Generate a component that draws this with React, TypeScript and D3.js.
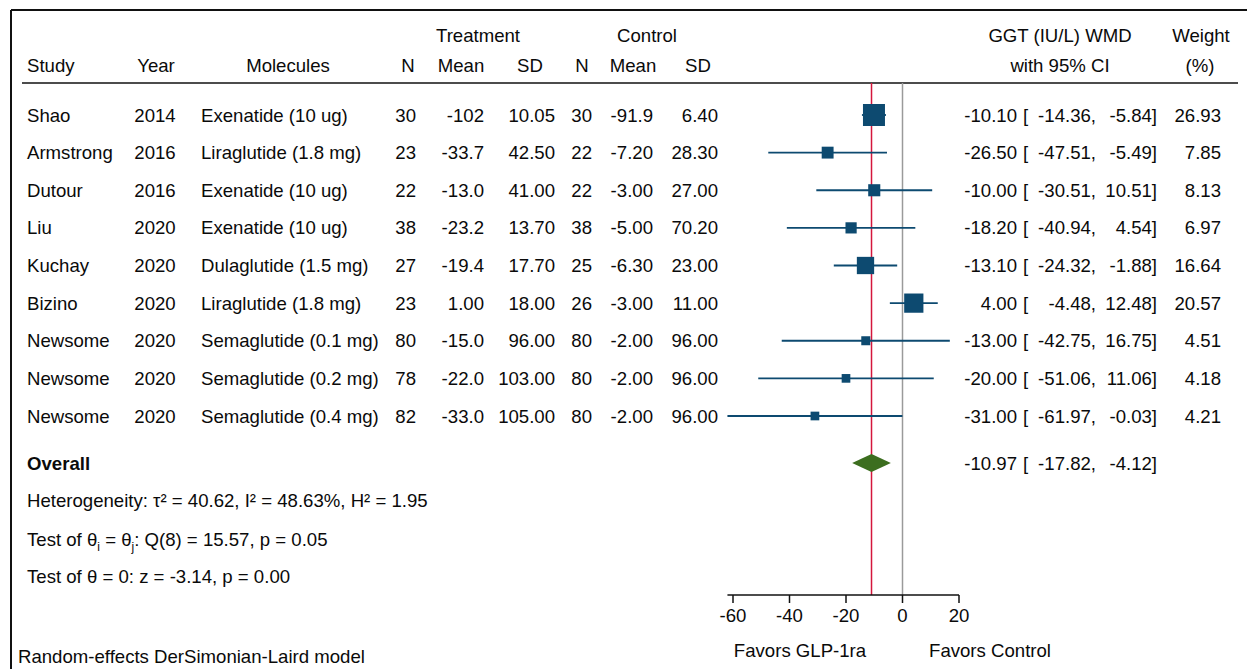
import React from "react";
import * as d3 from "d3";

// study table
const studies = ["Shao", "Armstrong", "Dutour", "Liu", "Kuchay", "Bizino", "Newsome", "Newsome", "Newsome"];
const years = ["2014", "2016", "2016", "2020", "2020", "2020", "2020", "2020", "2020"];
const molecules = [
  "Exenatide (10 ug)",
  "Liraglutide (1.8 mg)",
  "Exenatide (10 ug)",
  "Exenatide (10 ug)",
  "Dulaglutide (1.5 mg)",
  "Liraglutide (1.8 mg)",
  "Semaglutide (0.1 mg)",
  "Semaglutide (0.2 mg)",
  "Semaglutide (0.4 mg)",
];
const trtN = ["30", "23", "22", "38", "27", "23", "80", "78", "82"];
const trtMean = ["-102", "-33.7", "-13.0", "-23.2", "-19.4", "1.00", "-15.0", "-22.0", "-33.0"];
const trtSD = ["10.05", "42.50", "41.00", "13.70", "17.70", "18.00", "96.00", "103.00", "105.00"];
const ctlN = ["30", "22", "22", "38", "25", "26", "80", "80", "80"];
const ctlMean = ["-91.9", "-7.20", "-3.00", "-5.00", "-6.30", "-3.00", "-2.00", "-2.00", "-2.00"];
const ctlSD = ["6.40", "28.30", "27.00", "70.20", "23.00", "11.00", "96.00", "96.00", "96.00"];

// effect sizes
const wmd = [-10.1, -26.5, -10.0, -18.2, -13.1, 4.0, -13.0, -20.0, -31.0];
const lower = [-14.36, -47.51, -30.51, -40.94, -24.32, -4.48, -42.75, -51.06, -61.97];
const upper = [-5.84, -5.49, 10.51, 4.54, -1.88, 12.48, 16.75, 11.06, -0.03];
const weights = [26.93, 7.85, 8.13, 6.97, 16.64, 20.57, 4.51, 4.18, 4.21];

const overall = { est: -10.97, lo: -17.82, hi: -4.12 };
const ticks = [-60, -40, -20, 0, 20];

const FONT = "'Liberation Sans', Arial, Helvetica, sans-serif";
const FS = 18.6;
const BOX = "#0d4a70";
const DIAMOND = "#3c6e1f";

export default function App() {
  const width = 1247;
  const height = 669;

  const x = d3.scaleLinear().domain([-60, 20]).range([733, 959]);
  const y = d3.scaleLinear().domain([0, 8]).range([115, 416]);
  const boxSize = d3.scaleSqrt().domain([0, 26.93]).range([0, 22]);

  const plotTop = 83;
  const axisY = 595;
  const overallY = 463;
  const base = 6.6; // baseline offset from row centre

  const fmt = (v: number) => v.toFixed(2);

  const cell = (txt: string, xx: number, yy: number, anchor: string, weight = "normal") => (
    <text x={xx} y={yy} textAnchor={anchor} fontWeight={weight}>
      {txt}
    </text>
  );

  const ciParts = (est: number, lo: number, hi: number, yy: number) => (
    <g>
      {cell(fmt(est), 1017, yy, "end")}
      {cell("[", 1023, yy, "start")}
      {cell(fmt(lo) + ",", 1096, yy, "end")}
      {cell(fmt(hi) + "]", 1157, yy, "end")}
    </g>
  );

  const diamond = [
    [x(overall.lo), overallY],
    [x(overall.est), overallY - 9],
    [x(overall.hi), overallY],
    [x(overall.est), overallY + 9],
  ]
    .map((p) => p.join(","))
    .join(" ");

  return (
    <svg
      width={width}
      height={height}
      style={{ position: "absolute", left: 0, top: 0, background: "#fff" }}
      fontFamily={FONT}
      fontSize={FS}
      fill="#0a0a0a"
    >
      {/* frame */}
      <line x1={11} x2={width} y1={10} y2={10} stroke="#111" strokeWidth={2} />
      <line x1={11} x2={11} y1={10} y2={height} stroke="#111" strokeWidth={2} />

      {/* headers */}
      {cell("Treatment", 478, 42, "middle")}
      {cell("Control", 647, 42, "middle")}
      {cell("GGT (IU/L) WMD", 1060, 42, "middle")}
      {cell("Weight", 1201, 42, "middle")}
      {cell("Study", 27, 72, "start")}
      {cell("Year", 156, 72, "middle")}
      {cell("Molecules", 288, 72, "middle")}
      {cell("N", 408, 72, "middle")}
      {cell("Mean", 461, 72, "middle")}
      {cell("SD", 530, 72, "middle")}
      {cell("N", 582, 72, "middle")}
      {cell("Mean", 633, 72, "middle")}
      {cell("SD", 698, 72, "middle")}
      {cell("with 95% CI", 1060, 72, "middle")}
      {cell("(%)", 1200, 72, "middle")}
      <line x1={22} x2={1238} y1={plotTop} y2={plotTop} stroke="#111" strokeWidth={1.5} />

      {/* reference lines */}
      <line x1={x(0)} x2={x(0)} y1={plotTop} y2={axisY} stroke="#9a9a9a" strokeWidth={1.5} />
      <line x1={x(overall.est)} x2={x(overall.est)} y1={plotTop} y2={axisY} stroke="#d4163c" strokeWidth={1.5} />

      {/* study rows */}
      {studies.map((s, i) => {
        const cy = y(i);
        const ty = cy + base;
        const b = boxSize(weights[i]);
        return (
          <g key={i}>
            {cell(s, 27, ty, "start")}
            {cell(years[i], 155, ty, "middle")}
            {cell(molecules[i], 201, ty, "start")}
            {cell(trtN[i], 416, ty, "end")}
            {cell(trtMean[i], 484, ty, "end")}
            {cell(trtSD[i], 555, ty, "end")}
            {cell(ctlN[i], 592, ty, "end")}
            {cell(ctlMean[i], 653, ty, "end")}
            {cell(ctlSD[i], 718, ty, "end")}
            <line x1={x(lower[i])} x2={x(upper[i])} y1={cy} y2={cy} stroke={BOX} strokeWidth={1.8} />
            <rect x={x(wmd[i]) - b / 2} y={cy - b / 2} width={b} height={b} fill={BOX} />
            {ciParts(wmd[i], lower[i], upper[i], ty)}
            {cell(fmt(weights[i]), 1221, ty, "end")}
          </g>
        );
      })}

      {/* overall */}
      {cell("Overall", 27, overallY + base, "start", "bold")}
      <polygon points={diamond} fill={DIAMOND} />
      {ciParts(overall.est, overall.lo, overall.hi, overallY + base)}

      {cell("Heterogeneity: \u03c4\u00b2 = 40.62, I\u00b2 = 48.63%, H\u00b2 = 1.95", 27, 500 + base, "start")}
      <text x={27} y={539 + base}>
        Test of {"\u03b8"}
        <tspan fontSize={12} dy={5}>i</tspan>
        <tspan dy={-5}> = {"\u03b8"}</tspan>
        <tspan fontSize={12} dy={5}>j</tspan>
        <tspan dy={-5}>: Q(8) = 15.57, p = 0.05</tspan>
      </text>
      {cell("Test of \u03b8 = 0: z = -3.14, p = 0.00", 27, 576 + base, "start")}

      {/* axis */}
      <line x1={x(-61.97)} x2={x(20)} y1={axisY} y2={axisY} stroke="#111" strokeWidth={1.5} />
      {ticks.map((t) => (
        <g key={t}>
          <line x1={x(t)} x2={x(t)} y1={axisY} y2={axisY + 8} stroke="#111" strokeWidth={1.5} />
          {cell(String(t), x(t), axisY + 27, "middle")}
        </g>
      ))}
      {cell("Favors GLP-1ra", 800, 657, "middle")}
      {cell("Favors Control", 990, 657, "middle")}

      {cell("Random-effects DerSimonian-Laird model", 18, 663, "start")}
    </svg>
  );
}
